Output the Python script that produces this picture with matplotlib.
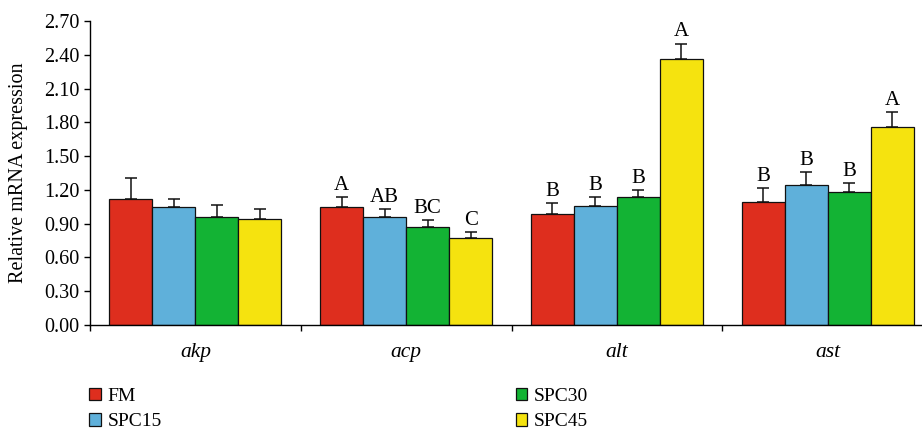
import matplotlib.pyplot as plt
import numpy as np

genes = ['akp', 'acp', 'alt', 'ast']
groups = ['FM', 'SPC15', 'SPC30', 'SPC45']
colors = ['#DE2E1E', '#5FB0DA', '#13B334', '#F5E30F']

fm = [1.12, 1.048, 0.983, 1.09]
spc15 = [1.045, 0.956, 1.06, 1.241]
spc30 = [0.956, 0.868, 1.134, 1.178]
spc45 = [0.939, 0.773, 2.36, 1.758]

fm_err = [0.19, 0.086, 0.097, 0.124]
spc15_err = [0.071, 0.071, 0.08, 0.118]
spc30_err = [0.11, 0.067, 0.066, 0.086]
spc45_err = [0.088, 0.056, 0.14, 0.134]

letters = [
    ['', 'A', 'B', 'B'],
    ['', 'AB', 'B', 'B'],
    ['', 'BC', 'B', 'B'],
    ['', 'C', 'A', 'A'],
]

yticks = [0.0, 0.3, 0.6, 0.9, 1.2, 1.5, 1.8, 2.1, 2.4, 2.7]

plt.rcParams['font.family'] = ['Liberation Serif', 'DejaVu Serif']

if __name__ == '__main__':
    fig = plt.figure(figsize=(9.22, 4.32), dpi=100)
    ax = fig.add_axes([90 / 922, 1 - 325 / 432, 843 / 922, 304 / 432])

    values = [fm, spc15, spc30, spc45]
    errors = [fm_err, spc15_err, spc30_err, spc45_err]
    width = 0.204
    x = np.arange(len(genes)) + 0.5
    for k, (vals, errs) in enumerate(zip(values, errors)):
        pos = x + (k - 1.5) * width
        ax.bar(pos, vals, width, color=colors[k], edgecolor='#111111',
               linewidth=0.9, label=groups[k], zorder=2)
        ax.errorbar(pos, vals, yerr=[np.zeros(len(vals)), errs], fmt='none',
                    ecolor='#111111', elinewidth=1.1, capsize=4.5,
                    capthick=1.1, zorder=1)
        for p, v, e, t in zip(pos, vals, errs, letters[k]):
            if t:
                ax.annotate(t, (p, v + e), xytext=(0, 1.5), textcoords='offset points',
                            ha='center', va='bottom', fontsize=15)

    ax.set_xlim(0, 4)
    ax.set_ylim(0, 2.7)
    ax.set_yticks(yticks)
    ax.set_yticklabels(['%.2f' % t for t in yticks], fontsize=14.5)
    ax.set_xticks([0, 1, 2, 3, 4])
    ax.set_xticklabels([])
    ax.set_xticks(x, minor=True)
    ax.set_xticklabels(genes, minor=True, fontsize=15.5, style='italic')
    ax.tick_params(axis='x', which='minor', length=0, pad=13)
    ax.tick_params(axis='both', which='major', direction='out', length=4, width=1)
    ax.set_ylabel('Relative mRNA expression', fontsize=14.5)
    ax.yaxis.set_label_coords(-0.073, 0.5)
    for side in ['top', 'right']:
        ax.spines[side].set_visible(False)
    for side in ['left', 'bottom']:
        ax.spines[side].set_linewidth(1.0)

    fig.legend(loc='upper left', bbox_to_anchor=(89 / 922, 1 - 388 / 432),
               ncol=2, frameon=False, fontsize=14, handlelength=0.6,
               handleheight=0.6, handletextpad=0.35, columnspacing=18.2,
               labelspacing=0.42, borderaxespad=0, borderpad=0)

    fig.savefig('out.png', dpi=100)
